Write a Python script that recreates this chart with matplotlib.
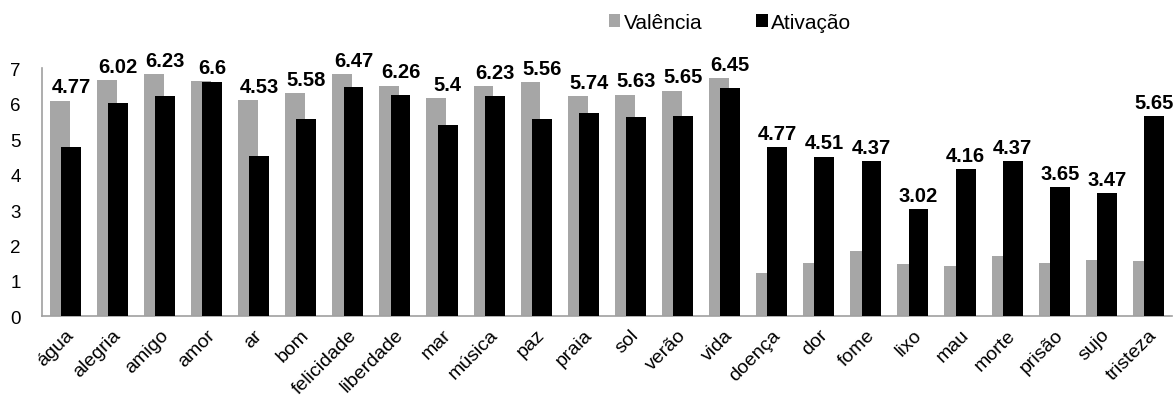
import matplotlib
matplotlib.use("Agg")
import matplotlib.pyplot as plt
import numpy as np

plt.rcParams['font.family'] = ['Liberation Sans', 'DejaVu Sans']

palavras = ["água", "alegria", "amigo", "amor", "ar", "bom", "felicidade", "liberdade",
            "mar", "música", "paz", "praia", "sol", "verão", "vida", "doença", "dor",
            "fome", "lixo", "mau", "morte", "prisão", "sujo", "tristeza"]

valencia = [6.09, 6.67, 6.84, 6.63, 6.11, 6.30, 6.84, 6.51,
            6.15, 6.50, 6.62, 6.21, 6.26, 6.37, 6.72, 1.21, 1.51,
            1.85, 1.48, 1.42, 1.70, 1.51, 1.59, 1.57]

ativacao = [4.77, 6.02, 6.23, 6.6, 4.53, 5.58, 6.47, 6.26,
            5.4, 6.23, 5.56, 5.74, 5.63, 5.65, 6.45, 4.77, 4.51,
            4.37, 3.02, 4.16, 4.37, 3.65, 3.47, 5.65]

yticks = [0, 1, 2, 3, 4, 5, 6, 7]

fig = plt.figure(figsize=(11.76, 4.06), dpi=100)
ax = fig.add_axes([0.0355, 0.2185, 0.961, 0.6108])

x = np.arange(len(palavras))
w = 0.42
ax.bar(x - 0.12, valencia, width=w, color="#a6a6a6", label="Valência", zorder=2)
ax.bar(x + 0.12, ativacao, width=w, color="#000000", label="Ativação", zorder=3)

for xi, v, a in zip(x, valencia, ativacao):
    ax.annotate(f"{a:g}", xy=(xi + 0.12, max(v, a)), xytext=(0, 3),
                textcoords="offset points", ha="center", va="bottom",
                fontsize=14.5, fontweight="bold", color="black", zorder=4)

ax.set_xlim(-0.5, len(palavras) - 0.5)
ax.set_ylim(0, 7)
ax.set_yticks(yticks)
ax.set_yticklabels([str(t) for t in yticks], fontsize=13.5)
ax.set_xticks(x)
ax.set_xticklabels(palavras, rotation=45, ha="right", va="top",
                   rotation_mode="anchor", fontsize=14)
ax.tick_params(axis="x", length=0, pad=7)
ax.tick_params(axis="y", length=0, pad=15)

for side in ("top", "right"):
    ax.spines[side].set_visible(False)
for side in ("left", "bottom"):
    ax.spines[side].set_color("#a0a0a0")
    ax.spines[side].set_linewidth(1.2)

leg = fig.legend(loc="center left", bbox_to_anchor=(0.509, 0.943), ncol=2,
                 frameon=False, fontsize=15, borderpad=0,
                 handlelength=0.55, handleheight=0.55,
                 handletextpad=0.15, columnspacing=2.6)

fig.savefig("out.png", dpi=100)
